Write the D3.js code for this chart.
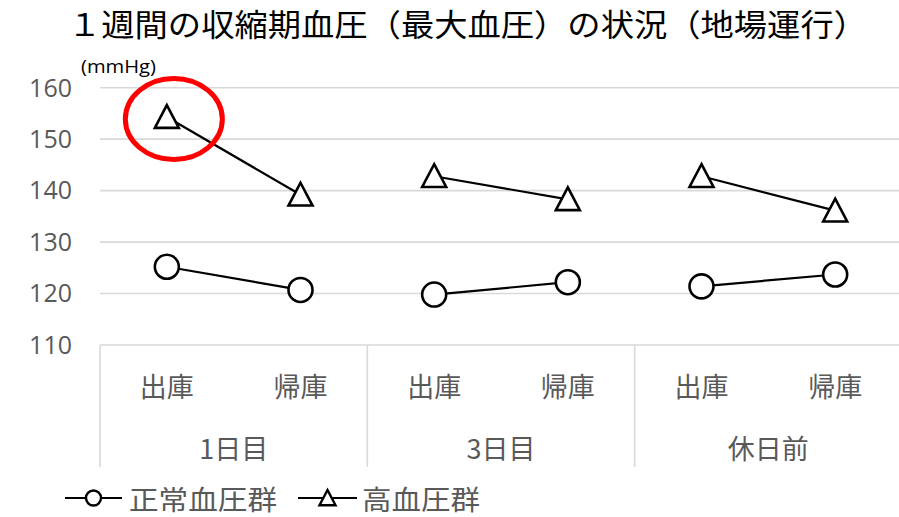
<!DOCTYPE html>
<html>
<head>
<meta charset="utf-8">
<script src="https://cdn.jsdelivr.net/npm/d3@7"></script>
<style>
  html, body { margin: 0; padding: 0; background: #fff; }
  svg { display: block; }
</style>
</head>
<body>
<svg id="chart" width="899" height="517"></svg>
<script>
// Systolic blood pressure over one week (local routes)
const title = "１週間の収縮期血圧（最大血圧）の状況（地場運行）";
const unitLabel = "(mmHg)";
const categories = ["出庫", "帰庫", "出庫", "帰庫", "出庫", "帰庫"];
const groups = ["1日目", "3日目", "休日前"];
const seriesNames = ["正常血圧群", "高血圧群"];
const normalBP = [125.2, 120.7, 119.8, 122.2, 121.4, 123.7];
const highBP = [154.3, 139.2, 142.8, 138.3, 142.8, 136.1];
const yTicks = [110, 120, 130, 140, 150, 160];

const CJK = "'Noto Sans CJK JP', 'Noto Sans', sans-serif";
const LATIN = "'Open Sans', 'Liberation Sans', sans-serif";
const GREY_TEXT = "#595959";
const GRID = "#d9d9d9";

const svg = d3.select("#chart");

const plot = { left: 100, right: 902, top: 87.7, bottom: 345 };

const x = d3.scaleBand()
  .domain(d3.range(categories.length))
  .range([plot.left, plot.right])
  .paddingInner(0).paddingOuter(0);
const xc = i => x(i) + x.bandwidth() / 2;

const y = d3.scaleLinear()
  .domain([d3.min(yTicks), d3.max(yTicks)])
  .range([plot.bottom, plot.top]);

// Title
svg.append("text")
  .attr("x", 68).attr("y", 36)
  .attr("font-family", CJK)
  .attr("font-size", 31)
  .attr("fill", "#000")
  .attr("textLength", 799)
  .attr("lengthAdjust", "spacingAndGlyphs")
  .text(title);

// Horizontal gridlines (the lowest one doubles as the category axis)
svg.append("g").selectAll("line")
  .data(yTicks)
  .join("line")
  .attr("x1", plot.left).attr("x2", 899)
  .attr("y1", d => y(d)).attr("y2", d => y(d))
  .attr("stroke", GRID).attr("stroke-width", 1.6);

// Y tick labels
svg.append("g").selectAll("text")
  .data(yTicks)
  .join("text")
  .attr("x", 72).attr("y", d => y(d) + 8.8)
  .attr("text-anchor", "end")
  .attr("font-family", LATIN)
  .attr("font-size", 25)
  .attr("fill", GREY_TEXT)
  .text(d => d);

// Unit label
svg.append("text")
  .attr("x", 81).attr("y", 73)
  .attr("font-family", LATIN)
  .attr("font-size", 18)
  .attr("fill", "#000")
  .attr("textLength", 75)
  .attr("lengthAdjust", "spacingAndGlyphs")
  .text(unitLabel);

// Group separators below the axis
const groupEdges = d3.range(groups.length + 1).map(g => plot.left + g * 2 * x.bandwidth());
svg.append("g").selectAll("line")
  .data(groupEdges)
  .join("line")
  .attr("x1", d => d).attr("x2", d => d)
  .attr("y1", plot.bottom).attr("y2", 467)
  .attr("stroke", GRID).attr("stroke-width", 1.6);

// Category labels
svg.append("g").selectAll("text")
  .data(categories)
  .join("text")
  .attr("x", (d, i) => xc(i)).attr("y", 385)
  .attr("text-anchor", "middle")
  .attr("dominant-baseline", "central")
  .attr("font-family", CJK)
  .attr("font-size", 27)
  .attr("fill", GREY_TEXT)
  .text(d => d);

// Group labels
svg.append("g").selectAll("text")
  .data(groups)
  .join("text")
  .attr("x", (d, g) => plot.left + (g * 2 + 1) * x.bandwidth())
  .attr("y", 447)
  .attr("text-anchor", "middle")
  .attr("dominant-baseline", "central")
  .attr("font-family", CJK)
  .attr("font-size", 27)
  .attr("fill", GREY_TEXT)
  .text(d => d);

// Marker shapes
function trianglePath(cx, cy, s) {
  const p = d3.path();
  p.moveTo(cx, cy - s * 0.5);
  p.lineTo(cx + s * 0.5, cy + s * 0.45);
  p.lineTo(cx - s * 0.5, cy + s * 0.45);
  p.closePath();
  return p.toString();
}

// Each series is drawn as separate segments per group (出庫 → 帰庫)
function drawSeries(values, marker) {
  const g = svg.append("g");
  const pts = values.map((v, i) => ({ i, v }));
  const segs = d3.groups(pts, d => Math.floor(d.i / 2)).map(d => d[1]);
  const line = d3.line().x(d => xc(d.i)).y(d => y(d.v));
  g.selectAll("path.seg")
    .data(segs)
    .join("path")
    .attr("class", "seg")
    .attr("d", line)
    .attr("fill", "none")
    .attr("stroke", "#000")
    .attr("stroke-width", 2.2);
  if (marker === "circle") {
    g.selectAll("circle")
      .data(pts)
      .join("circle")
      .attr("cx", d => xc(d.i)).attr("cy", d => y(d.v))
      .attr("r", 12)
      .attr("fill", "#fff").attr("stroke", "#000").attr("stroke-width", 2.6);
  } else {
    g.selectAll("path.mk")
      .data(pts)
      .join("path")
      .attr("class", "mk")
      .attr("d", d => trianglePath(xc(d.i), y(d.v), 24))
      .attr("fill", "#fff").attr("stroke", "#000").attr("stroke-width", 2.6)
      .attr("stroke-linejoin", "miter");
  }
}

drawSeries(normalBP, "circle");
drawSeries(highBP, "triangle");

// Highlight around the first 高血圧群 reading
svg.append("ellipse")
  .attr("cx", xc(0) + 7).attr("cy", y(highBP[0]) + 2)
  .attr("rx", 48.5).attr("ry", 40.5)
  .attr("fill", "none")
  .attr("stroke", "#ff0000")
  .attr("stroke-width", 5);

// Legend
const legendY = 498;
const legend = [
  { name: seriesNames[0], marker: "circle", x0: 65, x1: 122, tx: 129, tl: 148 },
  { name: seriesNames[1], marker: "triangle", x0: 298, x1: 357, tx: 362, tl: 118 }
];
const lg = svg.append("g");
legend.forEach(d => {
  lg.append("line")
    .attr("x1", d.x0).attr("x2", d.x1)
    .attr("y1", legendY).attr("y2", legendY)
    .attr("stroke", "#000").attr("stroke-width", 2.2);
  const mx = (d.x0 + d.x1) / 2;
  if (d.marker === "circle") {
    lg.append("circle")
      .attr("cx", mx).attr("cy", legendY).attr("r", 7.5)
      .attr("fill", "#fff").attr("stroke", "#000").attr("stroke-width", 2.4);
  } else {
    lg.append("path")
      .attr("d", trianglePath(mx, legendY, 16))
      .attr("fill", "#fff").attr("stroke", "#000").attr("stroke-width", 2.4);
  }
  lg.append("text")
    .attr("x", d.tx).attr("y", legendY)
    .attr("dominant-baseline", "central")
    .attr("font-family", CJK)
    .attr("font-size", 27)
    .attr("fill", GREY_TEXT)
    .attr("textLength", d.tl)
    .attr("lengthAdjust", "spacingAndGlyphs")
    .text(d.name);
});
</script>
</body>
</html>
